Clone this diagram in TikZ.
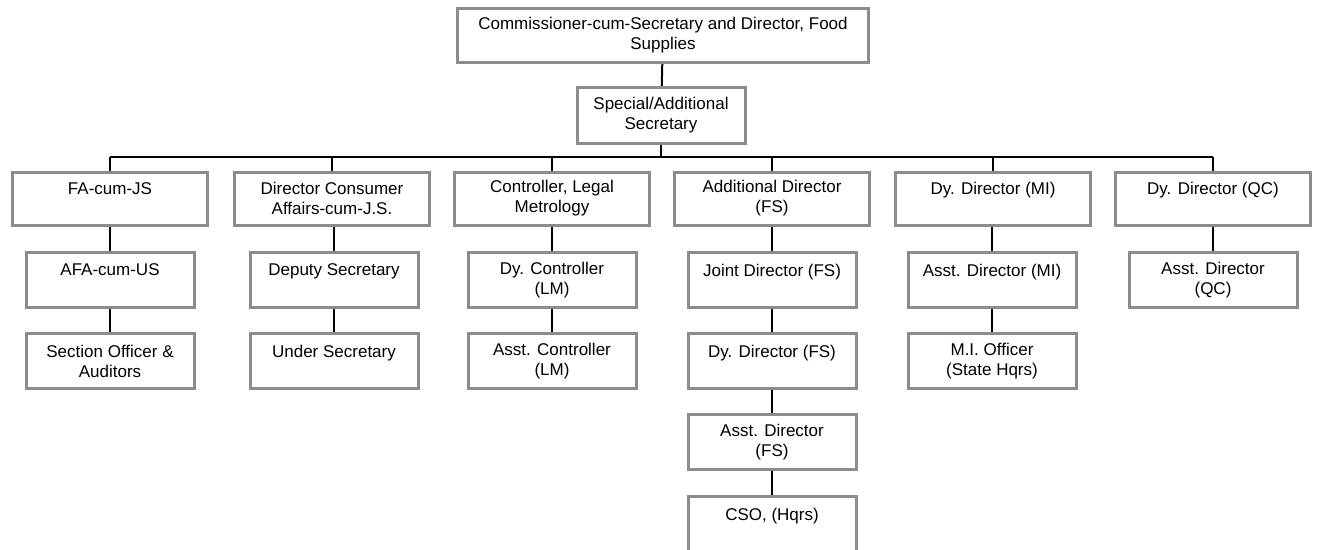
\documentclass[tikz,border=0pt]{standalone}
\usepackage{fontspec}
\setmainfont{Liberation Sans}
\usetikzlibrary{calc}

\begin{document}
\begin{tikzpicture}[x=1pt,y=-1pt,
	office/.style = {rectangle,
		draw=gray!90,
		line width=2pt,
		fill=white,
		align=center,
		inner sep=2pt,
		font=\fontsize{17}{20}\selectfont,
		minimum width=167pt,
		minimum height=54pt},
	head/.style = {office,
		minimum width=194pt,
		minimum height=52pt},
	link/.style = {line width=2pt}]
	
	\useasboundingbox (0,0) rectangle (1320,549);
	
	% Top
	\node[office,minimum width=410pt,minimum height=53pt] (C) at (663,35.5) {Commissioner-cum-Secretary and Director, Food\\Supplies};
	\node[office,minimum height=55pt] (S) at (661,115.5) {Special/Additional\\Secretary};
	
	% Bus
	\coordinate (bus) at (661,157);
	
	% Level 1
	\node[head] (FA) at (110,198.5) {FA-cum-JS\\\mbox{}};
	\node[head] (DCA) at (332,198.5) {Director Consumer\\Affairs-cum-J.S.};
	\node[head] (CLM) at (552,198.5) {Controller, Legal\\Metrology};
	\node[head] (ADF) at (772,198.5) {Additional Director\\(FS)};
	\node[head] (DMI) at (993,198.5) {Dy. Director (MI)\\\mbox{}};
	\node[head] (DQC) at (1213,198.5) {Dy. Director (QC)\\\mbox{}};
	
	% Level 2
	\node[office] (AFA) at (110,280) {AFA-cum-US\\\mbox{}};
	\node[office] (DS) at (334,280) {Deputy Secretary\\\mbox{}};
	\node[office] (DCL) at (552,280) {Dy. Controller\\(LM)};
	\node[office] (JDF) at (772,280) {Joint Director (FS)\\\mbox{}};
	\node[office] (AMI) at (992,280) {Asst. Director (MI)\\\mbox{}};
	\node[office] (AQC) at (1213,280) {Asst. Director\\(QC)};
	
	% Level 3
	\node[office] (SOA) at (110,361) {Section Officer \&\\Auditors};
	\node[office] (US) at (334,361) {Under Secretary\\\mbox{}};
	\node[office] (ACL) at (552,361) {Asst. Controller\\(LM)};
	\node[office] (DDF) at (772,361) {Dy. Director (FS)\\\mbox{}};
	\node[office] (MIO) at (992,361) {M.I. Officer\\(State Hqrs)};
	
	% Level 4 and 5
	\node[office] (ADS) at (772,442) {Asst. Director\\(FS)};
	\node[office] (CSO) at (772,524) {CSO, (Hqrs)\\\mbox{}};
	
	% Connectors
	\draw[link] (C) -- (S);
	\draw[link] (S) -- (bus);
	\draw[line width=2.5pt] (FA.north |- bus) -- (DQC.north |- bus);
	\foreach \n in {FA,DCA,CLM,ADF,DMI,DQC}
		\draw[link] (\n.north |- bus) -- (\n.north);
	\draw[link] (FA) -- (AFA) -- (SOA);
	\draw[link] (DCA.south -| DS) -- (DS) -- (US);
	\draw[link] (CLM) -- (DCL) -- (ACL);
	\draw[link] (ADF) -- (JDF) -- (DDF) -- (ADS) -- (CSO);
	\draw[link] (DMI.south -| AMI) -- (AMI) -- (MIO);
	\draw[link] (DQC) -- (AQC);
	
	% Boxes on top of lines
	\foreach \n in {C,S,FA,DCA,CLM,ADF,DMI,DQC,AFA,DS,DCL,JDF,AMI,AQC,SOA,US,ACL,DDF,MIO,ADS,CSO}
		\draw[gray!90,line width=2pt] (\n.south west) rectangle (\n.north east);
	
\end{tikzpicture}
\end{document}
